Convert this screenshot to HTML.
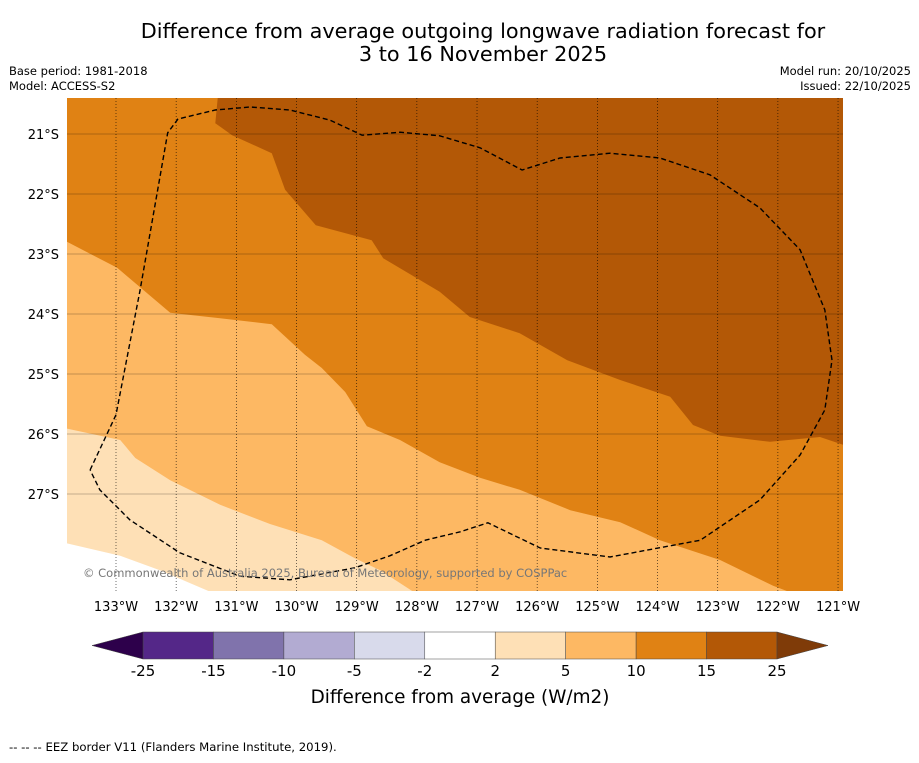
<!DOCTYPE html>
<html><head><meta charset="utf-8"><style>
body{margin:0;background:#fff;font-family:"Liberation Sans","DejaVu Sans",sans-serif;}
svg text{font-family:"DejaVu Sans","Liberation Sans",sans-serif;}
</style></head><body>
<svg id="c" width="919" height="758" xmlns="http://www.w3.org/2000/svg">
<text x="483" y="38" text-anchor="middle" font-size="20.8">Difference from average outgoing longwave radiation forecast for</text>
<text x="483" y="61" text-anchor="middle" font-size="20.8">3 to 16 November 2025</text>
<text x="9" y="75" font-size="11.5">Base period: 1981-2018</text>
<text x="9" y="90" font-size="11.5">Model: ACCESS-S2</text>
<text x="911" y="75" font-size="11.5" text-anchor="end">Model run: 20/10/2025</text>
<text x="911" y="90" font-size="11.5" text-anchor="end">Issued: 22/10/2025</text>
<defs><clipPath id="mc"><rect x="67" y="98" width="776" height="493"/></clipPath></defs>
<g id="map" clip-path="url(#mc)"></g>
<g id="axes"></g>
<g id="cbar"></g>
<text x="460" y="703" text-anchor="middle" font-size="18.4">Difference from average (W/m2)</text>
<text x="9" y="751" font-size="11.7">--  --  -- EEZ border V11 (Flanders Marine Institute, 2019).</text>
</svg>
<script>
const lonTicks=[-133,-132,-131,-130,-129,-128,-127,-126,-125,-124,-123,-122,-121];
const latTicks=[-21,-22,-23,-24,-25,-26,-27];
const levels=[-25,-15,-10,-5,-2,2,5,10,15,25];
const levelColors=["#542788","#8073ac","#b2abd2","#d8daeb","#ffffff","#fee0b6","#fdb863","#e08214","#b35806"];
const darkRegion=[[-131.3,-20.3],[-131.35,-20.82],[-131.07,-21.02],[-130.41,-21.32],[-130.19,-21.93],[-129.68,-22.52],[-128.75,-22.77],[-128.56,-23.07],[-127.62,-23.63],[-127.12,-24.05],[-126.29,-24.32],[-125.5,-24.77],[-124.62,-25.1],[-123.79,-25.38],[-123.41,-25.85],[-122.96,-26.03],[-122.13,-26.13],[-121.3,-26.05],[-120.8,-26.22],[-120.8,-20.3]];
const lightRegion=[[-134,-22.7],[-132.98,-23.23],[-132.1,-23.98],[-131.27,-24.07],[-130.41,-24.17],[-129.86,-24.68],[-129.58,-24.9],[-129.19,-25.3],[-128.83,-25.87],[-128.28,-26.1],[-127.62,-26.47],[-126.95,-26.73],[-126.29,-26.93],[-125.45,-27.27],[-124.62,-27.47],[-123.96,-27.77],[-122.96,-28.1],[-122.08,-28.53],[-121.63,-28.7],[-134,-28.7]];
const paleRegion=[[-134,-25.87],[-132.93,-26.1],[-132.68,-26.4],[-132.1,-26.77],[-131.27,-27.18],[-130.44,-27.5],[-129.58,-27.77],[-129.03,-28.07],[-128.61,-28.27],[-127.95,-28.7],[-134,-28.7]];
const whiteRegion=[[-134,-27.78],[-132.93,-28.03],[-132.27,-28.27],[-131.27,-28.7],[-134,-28.7]];
const eez=[[-133.43,-26.6],[-133,-25.68],[-132.6,-23.6],[-132.14,-20.98],[-131.97,-20.75],[-131.35,-20.6],[-130.77,-20.55],[-130.11,-20.6],[-129.44,-20.77],[-128.91,-21.02],[-128.28,-20.97],[-127.62,-21.03],[-126.95,-21.23],[-126.25,-21.6],[-125.62,-21.4],[-124.79,-21.32],[-123.96,-21.4],[-123.13,-21.68],[-122.3,-22.23],[-121.63,-22.93],[-121.22,-23.93],[-121.1,-24.77],[-121.22,-25.6],[-121.63,-26.35],[-122.3,-27.1],[-123.29,-27.77],[-124.79,-28.05],[-125.95,-27.9],[-126.82,-27.48],[-127.28,-27.63],[-127.86,-27.77],[-128.45,-28.03],[-129.03,-28.23],[-130.11,-28.43],[-130.94,-28.37],[-131.94,-27.98],[-132.77,-27.43],[-133.27,-26.93],[-133.43,-26.6]];
const NS="http://www.w3.org/2000/svg";
function xS(lon){return 116+(lon+133)*60.17;}
function yS(lat){return 134+(-21-lat)*60;}
function mk(t,a,p){const e=document.createElementNS(NS,t);for(const k in a)e.setAttribute(k,a[k]);p.appendChild(e);return e;}
function pts(arr){return arr.map(p=>xS(p[0]).toFixed(1)+","+yS(p[1]).toFixed(1)).join(" ");}
const map=document.getElementById("map");
let r=mk("rect",{x:67,y:98,width:776,height:493,fill:"#e08214"},map);


[[darkRegion,"#b35806","region-15-25"],[lightRegion,"#fdb863","region-5-10"],[paleRegion,"#fee0b6","region-2-5"],[whiteRegion,"#ffffff","region-neutral"]].forEach(d=>{
 const p=mk("polygon",{points:pts(d[0]),fill:d[1]},map);
 
 
});
lonTicks.forEach(l=>{const g=mk("line",{x1:xS(l),x2:xS(l),y1:98,y2:591,stroke:"#000","stroke-width":0.7,"stroke-dasharray":"1,2",opacity:0.8},map);
 
 });
latTicks.forEach(l=>{const g=mk("line",{x1:67,x2:843,y1:yS(l),y2:yS(l),stroke:"#000","stroke-width":0.6,opacity:0.45},map);
 
 });
const e=mk("polyline",{points:pts(eez),fill:"none",stroke:"#000","stroke-width":1.4,"stroke-dasharray":"5,3"},map);


const cp=mk("text",{x:83,y:577,"font-size":11.5,fill:"#777"},map);cp.textContent="© Commonwealth of Australia 2025, Bureau of Meteorology, supported by COSPPac";


const ax=document.getElementById("axes");
lonTicks.forEach(l=>{const t=mk("text",{x:xS(l),y:611,"text-anchor":"middle","font-size":13},ax);t.textContent=Math.abs(l)+"°W";
 
 });
latTicks.forEach(l=>{const t=mk("text",{x:59,y:yS(l)+5,"text-anchor":"end","font-size":13},ax);t.textContent=Math.abs(l)+"°S";
 
 });
const cb=document.getElementById("cbar");
const cx0=143,cw=(777-143)/9,cy=632,ch=27;
levelColors.forEach((c,i)=>{const b=mk("rect",{x:cx0+i*cw,y:cy,width:cw,height:ch,fill:c,stroke:"#444","stroke-width":0.5},cb);
 
 });
let a1=mk("polygon",{points:`92,${cy+ch/2} ${cx0},${cy} ${cx0},${cy+ch}`,fill:"#2d004b",stroke:"#444","stroke-width":0.5},cb);


let a2=mk("polygon",{points:`828,${cy+ch/2} 777,${cy} 777,${cy+ch}`,fill:"#7f3b08",stroke:"#444","stroke-width":0.5},cb);


levels.forEach((v,i)=>{const t=mk("text",{x:cx0+i*cw,y:676,"text-anchor":"middle","font-size":15},cb);t.textContent=v;
 
 });
</script>
</body></html>
